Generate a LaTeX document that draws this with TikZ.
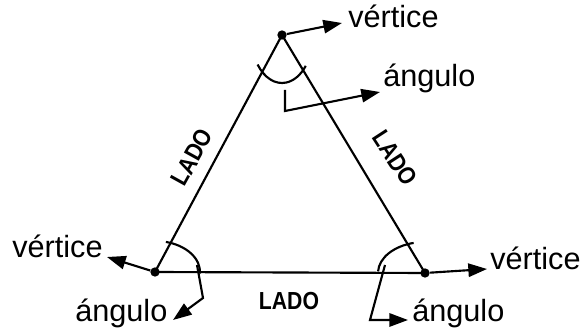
\documentclass[tikz,border=0pt]{standalone}
\usepackage{fontspec}
\setmainfont{Liberation Sans}
\newfontfamily\ladofont[FakeStretch=0.86]{Liberation Sans Bold}
\usetikzlibrary{arrows.meta}

\begin{document}
\begin{tikzpicture}[x=0.75pt,y=-0.75pt,
  side/.style={line width=1.6pt},
  dot/.style={circle,fill,inner sep=0pt,minimum size=7pt},
  arr/.style={line width=1.6pt,-{Triangle[length=14pt,width=10pt]}},
  lbl/.style={inner sep=0pt,font=\fontsize{23}{26}\selectfont},
  lado/.style={inner sep=0pt,font=\ladofont\fontsize{18.5}{20}\selectfont}]
  \useasboundingbox (0,0) rectangle (582,334);
  % ---------- vertices ----------
  \node[dot] (VT) at (282,35) {};
  \node[dot] (VL) at (155,272) {};
  \node[dot] (VR) at (425,273) {};
  \draw[side] (VT.center) -- (VL.center) -- (VR.center) -- cycle;
  % ---------- angle arcs ----------
  \draw[side] (VT.center) ++(142:31 and 48) arc[start angle=142,end angle=40,x radius=31,y radius=48];
  \draw[side] (VL.center) ++(-76:45 and 31) arc[start angle=-76,end angle=3,x radius=45,y radius=31];
  \draw[side] (VR.center) ++(183:47 and 31) arc[start angle=183,end angle=256,x radius=47,y radius=31];
  % ---------- side labels ----------
  \node[lado,rotate=61] (LL) at (192,157) {LADO};
  \node[lado,rotate=-57] (LR) at (395,158) {LADO};
  \node[lado,anchor=base] (LB) at (289,310) {LADO};
  % ---------- vertex labels ----------
  \node[lbl,anchor=base west] (TVT) at (348,28) {vértice};
  \node[lbl,anchor=base west] (TVL) at (12,258) {vértice};
  \node[lbl,anchor=base west] (TVR) at (490,270) {vértice};
  \coordinate (PT) at (342,23);
  \coordinate (PL) at (107,257);
  \coordinate (PR) at (487,269);
  \draw[arr] (VT) -- (PT);
  \draw[arr] (VL) -- (PL);
  \draw[arr] (VR) -- (PR);
  % ---------- angle labels ----------
  \node[lbl,anchor=base west] (TAT) at (383,87) {ángulo};
  \node[lbl,anchor=base west] (TAL) at (75,322) {ángulo};
  \node[lbl,anchor=base west] (TAR) at (412,322) {ángulo};
  \coordinate (AT) at (285,90);
  \coordinate (AL) at (197,265);
  \coordinate (AR) at (385,265);
  \draw[arr] (AT) -- (285,111) -- (380,92);
  \draw[arr] (AL) -- (203,298) -- (173,320);
  \draw[arr] (AR) -- (370,320) -- (408,320);
\end{tikzpicture}
\end{document}
